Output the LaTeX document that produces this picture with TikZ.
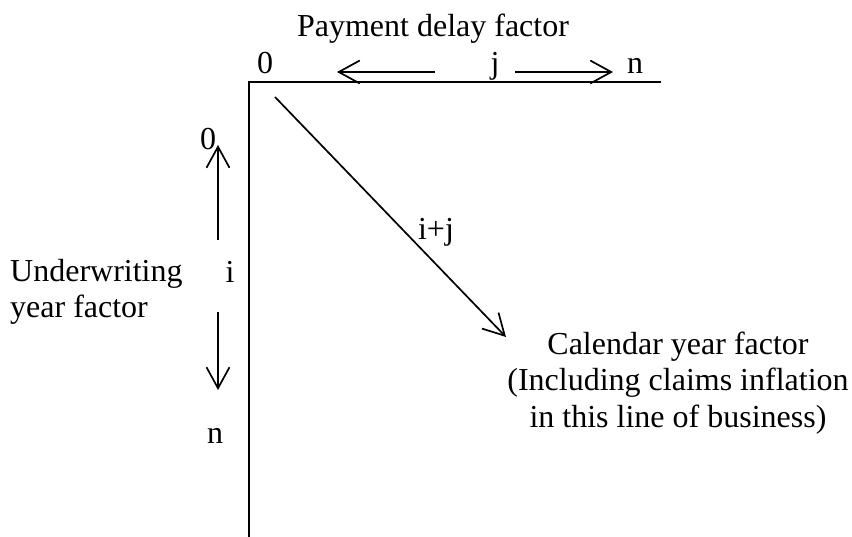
\documentclass[tikz,border=0pt]{standalone}
\usepackage{fontspec}
\setmainfont{Liberation Serif}
\usetikzlibrary{arrows.meta}
\begin{document}
\begin{tikzpicture}[x=1pt,y=-1pt,
  axis/.style={line width=2.3pt},
  arr/.style={line width=1.7pt,-{Straight Barb[length=21pt,width=23pt,line width=1.7pt]}},
  lbl/.style={inner sep=0pt,font=\fontsize{32}{36.5}\selectfont},
  ]
\useasboundingbox (0,0) rectangle (852,537);
% axes
\coordinate (O) at (249,82);
\coordinate (Xend) at (661,82);
\coordinate (Yend) at (249,537);
\draw[axis] (Xend) -- (O) -- (Yend);
% top labels
\node[lbl,anchor=base] (pay) at (433,37) {Payment delay factor};
\node[lbl,anchor=base] (x0) at (265,74) {0};
\node[lbl,anchor=base] (xj) at (495,74) {j};
\node[lbl,anchor=base] (xn) at (635,74) {n};
\coordinate (hl1) at (435,72);
\coordinate (hl2) at (337,72);
\coordinate (hr1) at (515,72);
\coordinate (hr2) at (613,72);
\draw[arr] (hl1) -- (hl2);
\draw[arr] (hr1) -- (hr2);
% left labels
\node[lbl,anchor=base] (y0) at (208,150) {0};
\node[lbl,anchor=base] (yi) at (230,283) {i};
\node[lbl,anchor=base] (yn) at (215,443) {n};
\coordinate (vu1) at (218,240);
\coordinate (vu2) at (218,145);
\coordinate (vd1) at (218,312);
\coordinate (vd2) at (218,390);
\draw[arr] (vu1) -- (vu2);
\draw[arr] (vd1) -- (vd2);
\node[lbl,anchor=west,align=left] (uw) at (10,292) {Underwriting\\year factor};
% diagonal
\coordinate (d1) at (275,97);
\coordinate (d2) at (506,337);
\draw[arr] (d1) -- (d2);
\node[lbl,anchor=base] (ij) at (436,240) {i+j};
\node[lbl,align=center] (cal) at (678,383) {Calendar year factor\\(Including claims inflation\\in this line of business)};
\end{tikzpicture}
\end{document}
